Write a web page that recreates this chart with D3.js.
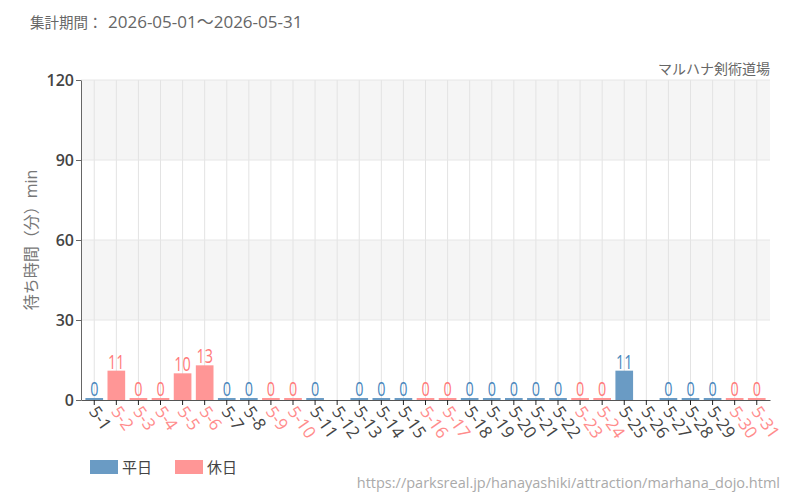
<!DOCTYPE html>
<html>
<head>
<meta charset="utf-8">
<script src="https://cdn.jsdelivr.net/npm/d3@7"></script>
<style>
  body { margin: 0; background: #fff; }
  text { font-family: "Open Sans", "Noto Sans CJK JP", sans-serif; }
</style>
</head>
<body>
<div id="chart"></div>
<script>
// data
var days = ["5-1","5-2","5-3","5-4","5-5","5-6","5-7","5-8","5-9","5-10",
  "5-11","5-12","5-13","5-14","5-15","5-16","5-17","5-18","5-19","5-20",
  "5-21","5-22","5-23","5-24","5-25","5-26","5-27","5-28","5-29","5-30","5-31"];
var waits = [0, 11, 0, 0, 10, 13, 0, 0, 0, 0,
  0, null, 0, 0, 0, 0, 0, 0, 0, 0,
  0, 0, 0, 0, 11, null, 0, 0, 0, 0, 0];
var holidays = ["5-2","5-3","5-4","5-5","5-6","5-9","5-10","5-16","5-17",
  "5-23","5-24","5-30","5-31"];
var yTicks = [0, 30, 60, 90, 120];

var svgWidth = 800;
var svgHeight = 500;
var margin = { top: 80, right: 30, bottom: 100, left: 81 };
var width = svgWidth - margin.left - margin.right;
var height = svgHeight - margin.top - margin.bottom;

var weekdayColor = "#6a9bc4";
var holidayColor = "#ff9696";

var svg = d3.select("#chart").append("svg")
  .attr("width", svgWidth)
  .attr("height", svgHeight);

var chartGroup = svg.append("g")
  .attr("transform", `translate(${margin.left}, ${margin.top})`);

var x = d3.scaleBand().domain(days).range([0, width]).padding(0.2);
var y = d3.scaleLinear().domain([0, 120]).range([height, 0]);

function isHoliday(d) { return holidays.indexOf(d) >= 0; }

// alternating background bands
chartGroup.selectAll("rect.band")
  .data([[90, 120], [30, 60]])
  .enter().append("rect")
  .attr("x", 0)
  .attr("width", width)
  .attr("y", d => y(d[1]))
  .attr("height", d => y(d[0]) - y(d[1]))
  .attr("fill", "#f5f5f5");

// grid lines
chartGroup.selectAll("line.vgrid")
  .data(days)
  .enter().append("line")
  .attr("x1", d => x(d) + x.bandwidth() / 2)
  .attr("x2", d => x(d) + x.bandwidth() / 2)
  .attr("y1", 0).attr("y2", height)
  .attr("stroke", "#e3e3e3");

chartGroup.selectAll("line.hgrid")
  .data(yTicks.slice(1))
  .enter().append("line")
  .attr("x1", 0).attr("x2", width)
  .attr("y1", d => y(d)).attr("y2", d => y(d))
  .attr("stroke", "#e6e6e6");

// bars
var rows = days.map((d, i) => ({ day: d, value: waits[i], holiday: isHoliday(d) }))
  .filter(r => r.value !== null);

chartGroup.selectAll("rect.bar")
  .data(rows)
  .enter().append("rect")
  .attr("x", d => x(d.day))
  .attr("width", x.bandwidth())
  .attr("y", d => Math.min(y(d.value), height - 2))
  .attr("height", d => Math.max(height - y(d.value), 2))
  .attr("fill", d => d.holiday ? holidayColor : weekdayColor);

// value labels, narrowed to look condensed
chartGroup.selectAll("text.val")
  .data(rows)
  .enter().append("text")
  .attr("transform", d => `translate(${x(d.day) + x.bandwidth() / 2}, ${Math.min(y(d.value), height - 2) - 2}) scale(0.72, 1)`)
  .attr("text-anchor", "middle")
  .attr("font-family", "Roboto, sans-serif")
  .attr("font-weight", 500)
  .attr("font-size", 20)
  .attr("fill", d => d.holiday ? "#ff7a7a" : "#4a87bd")
  .text(d => d.value);

// axes
var leftAxis = d3.axisLeft(y).tickValues(yTicks).tickSize(5).tickSizeOuter(0);
var yAxis = chartGroup.append("g").call(leftAxis);
yAxis.select(".domain").attr("stroke", "#666");
yAxis.selectAll(".tick line").attr("stroke", "#666");
yAxis.selectAll(".tick text")
  .attr("font-family", "Open Sans, sans-serif")
  .attr("font-size", 16)
  .attr("font-weight", 600)
  .attr("fill", "#444")
  .attr("x", -7);

var bottomAxis = d3.axisBottom(x).tickSize(5).tickSizeOuter(0);
var xAxis = chartGroup.append("g")
  .attr("transform", `translate(0, ${height})`)
  .call(bottomAxis);
xAxis.select(".domain").attr("stroke", "#555");
xAxis.selectAll(".tick line").attr("stroke", "#222");
xAxis.selectAll(".tick text")
  .attr("font-family", "Open Sans, sans-serif")
  .attr("font-size", 17)
  .attr("fill", d => isHoliday(d) ? "#ff8c8c" : "#444")
  .attr("text-anchor", "start")
  .attr("x", 0)
  .attr("y", 0)
  .attr("dy", "0.35em")
  .attr("transform", "translate(-1, 8) rotate(55)");

// y axis label
svg.append("text")
  .attr("transform", `translate(37, ${margin.top + height / 2}) rotate(-90)`)
  .attr("text-anchor", "middle")
  .attr("font-size", 16)
  .attr("fill", "#777")
  .text("待ち時間（分）min");

// titles
var title = svg.append("text")
  .attr("y", 28)
  .attr("fill", "#666");
title.append("tspan").attr("x", 30).attr("font-size", 14.5).text("集計期間：");
title.append("tspan").attr("x", 108).attr("font-size", 17).text("2026-05-01～2026-05-31");

svg.append("text")
  .attr("x", margin.left + width).attr("y", 74)
  .attr("text-anchor", "end")
  .attr("font-size", 14)
  .attr("fill", "#666")
  .text("マルハナ剣術道場");

// legend
var legend = svg.append("g").attr("transform", "translate(90, 460)");
[["平日", weekdayColor], ["休日", holidayColor]].forEach(function(item, i) {
  var g = legend.append("g").attr("transform", `translate(${i * 85}, 0)`);
  g.append("rect").attr("width", 28).attr("height", 14).attr("fill", item[1]);
  g.append("text").attr("x", 32).attr("y", 13)
    .attr("font-size", 15).attr("fill", "#444").text(item[0]);
});

// source url
svg.append("text")
  .attr("x", 780).attr("y", 488)
  .attr("text-anchor", "end")
  .attr("font-size", 14.5)
  .attr("fill", "#aaa")
  .text("https://parksreal.jp/hanayashiki/attraction/marhana_dojo.html");
</script>
</body>
</html>
